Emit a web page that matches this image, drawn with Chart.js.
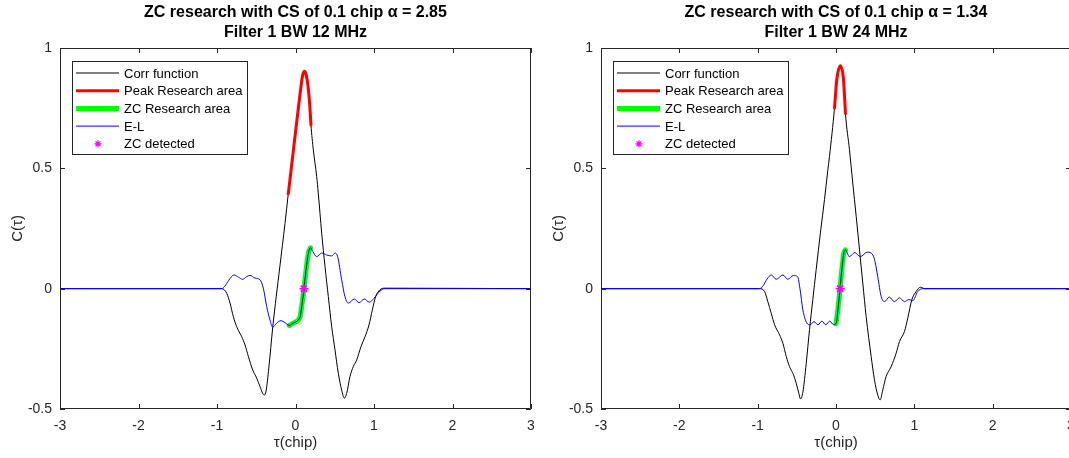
<!DOCTYPE html>
<html>
<head>
<meta charset="utf-8">
<script src="https://cdn.jsdelivr.net/npm/chart.js@4.4.1/dist/chart.umd.min.js"></script>
<style>
  html, body { margin: 0; padding: 0; background: #fff; overflow: hidden; width: 1069px; height: 458px; }
  canvas { position: absolute; top: 0; }
  #c1 { left: 0; }
  #c2 { left: 545px; }
</style>
</head>
<body>
<canvas id="c1" width="545" height="458"></canvas>
<canvas id="c2" width="540" height="458"></canvas>
<script>
// ---- axes ----
const xTicks = [-3, -2, -1, 0, 1, 2, 3];
const yTicks = [-0.5, 0, 0.5, 1];

// ---- left subplot : alpha = 2.85, BW 12 MHz ----
const leftTitle = ["ZC research with CS of 0.1 chip \u03B1 = 2.85", "Filter 1 BW 12 MHz"];

const leftCorrTau = [-3, -0.94, -0.876, -0.834, -0.792, -0.749, -0.685, -0.643, -0.6, -0.545, -0.494, -0.452, -0.418, -0.397, -0.375, -0.34, -0.29, -0.2, -0.134, -0.092, -0.05, 0.0, 0.04, 0.07, 0.09, 0.112, 0.135, 0.16, 0.18, 0.197, 0.227, 0.27, 0.29, 0.334, 0.376, 0.418, 0.461, 0.503, 0.545, 0.588, 0.622, 0.652, 0.694, 0.736, 0.78, 0.834, 0.885, 0.936, 0.979, 1.021, 1.076, 1.13, 3];
const leftCorrVal = [0, 0, -0.019, -0.06, -0.116, -0.158, -0.2, -0.234, -0.282, -0.338, -0.372, -0.407, -0.435, -0.442, -0.425, -0.33, -0.16, 0.09, 0.27, 0.394, 0.51, 0.65, 0.76, 0.84, 0.885, 0.903, 0.89, 0.84, 0.77, 0.68, 0.577, 0.466, 0.397, 0.23, 0.092, -0.033, -0.158, -0.254, -0.351, -0.421, -0.455, -0.435, -0.365, -0.324, -0.296, -0.241, -0.2, -0.151, -0.088, -0.033, -0.005, 0.002, 0];

const leftPeakTau = [-0.092, -0.05, 0.0, 0.04, 0.07, 0.09, 0.112, 0.135, 0.16, 0.18, 0.197];
const leftPeakVal = [0.394, 0.51, 0.65, 0.76, 0.84, 0.885, 0.903, 0.89, 0.84, 0.77, 0.68];

const leftElTau = [-3, -0.94, -0.9, -0.85, -0.783, -0.728, -0.673, -0.622, -0.58, -0.516, -0.452, -0.41, -0.367, -0.325, -0.29, -0.24, -0.185, -0.134, -0.079, -0.028, 0.036, 0.06, 0.079, 0.108, 0.134, 0.163, 0.19, 0.22, 0.27, 0.334, 0.397, 0.461, 0.505, 0.537, 0.588, 0.63, 0.673, 0.75, 0.81, 0.875, 0.94, 1.0, 1.076, 1.14, 3];
const leftElVal = [0, 0, 0.01, 0.035, 0.057, 0.048, 0.039, 0.05, 0.055, 0.044, 0.037, 0.002, -0.074, -0.13, -0.16, -0.143, -0.133, -0.141, -0.153, -0.143, -0.13, -0.115, -0.075, 0, 0.075, 0.145, 0.17, 0.155, 0.133, 0.148, 0.14, 0.136, 0.148, 0.133, 0.037, -0.033, -0.06, -0.043, -0.058, -0.043, -0.056, -0.04, -0.01, 0, 0];

const leftZcTau = [-0.079, -0.028, 0.036, 0.06, 0.079, 0.108, 0.134, 0.163, 0.19];
const leftZcVal = [-0.153, -0.143, -0.13, -0.115, -0.075, 0, 0.075, 0.145, 0.17];

const leftDetTau = [0.108];
const leftDetVal = [0];

// ---- right subplot : alpha = 1.34, BW 24 MHz ----
const rightTitle = ["ZC research with CS of 0.1 chip \u03B1 = 1.34", "Filter 1 BW 24 MHz"];

const rightCorrTau = [-3, -0.976, -0.912, -0.87, -0.827, -0.784, -0.72, -0.678, -0.635, -0.593, -0.542, -0.508, -0.474, -0.453, -0.423, -0.38, -0.338, -0.296, -0.253, -0.198, -0.147, -0.105, -0.083, -0.019, 0.01, 0.057, 0.096, 0.121, 0.172, 0.214, 0.258, 0.3, 0.342, 0.385, 0.449, 0.491, 0.533, 0.564, 0.597, 0.64, 0.704, 0.768, 0.81, 0.874, 0.916, 0.967, 1.023, 1.078, 1.129, 3];
const rightCorrVal = [0, 0, -0.012, -0.054, -0.102, -0.15, -0.192, -0.227, -0.282, -0.324, -0.358, -0.393, -0.435, -0.458, -0.43, -0.31, -0.17, -0.045, 0.08, 0.235, 0.37, 0.49, 0.55, 0.75, 0.868, 0.926, 0.868, 0.727, 0.577, 0.439, 0.3, 0.161, 0.023, -0.116, -0.282, -0.379, -0.442, -0.462, -0.421, -0.365, -0.324, -0.268, -0.22, -0.178, -0.123, -0.047, -0.012, 0.006, 0, 0];

const rightPeakTau = [-0.019, 0.01, 0.057, 0.096, 0.121];
const rightPeakVal = [0.75, 0.868, 0.926, 0.868, 0.727];

const rightElTau = [-3, -0.976, -0.93, -0.88, -0.827, -0.763, -0.678, -0.615, -0.545, -0.49, -0.46, -0.423, -0.372, -0.33, -0.28, -0.23, -0.18, -0.13, -0.08, -0.03, 0.003, 0.025, 0.052, 0.078, 0.1, 0.121, 0.17, 0.24, 0.31, 0.4, 0.47, 0.5, 0.533, 0.577, 0.619, 0.68, 0.746, 0.81, 0.874, 0.93, 0.98, 1.043, 1.107, 3];
const rightElVal = [0, 0, 0.012, 0.04, 0.057, 0.039, 0.057, 0.039, 0.055, 0.05, 0.0, -0.088, -0.143, -0.15, -0.137, -0.15, -0.135, -0.15, -0.135, -0.15, -0.143, -0.085, 0, 0.09, 0.148, 0.161, 0.133, 0.15, 0.133, 0.152, 0.14, 0.11, 0.05, -0.033, -0.054, -0.035, -0.054, -0.038, -0.054, -0.045, -0.05, -0.012, 0, 0];

const rightZcTau = [0.0, 0.025, 0.052, 0.078, 0.1, 0.121];
const rightZcVal = [-0.145, -0.085, 0, 0.09, 0.148, 0.161];

const rightDetTau = [0.053];
const rightDetVal = [0];

const FONT = "'Liberation Sans', Arial, Helvetica, sans-serif";
const AXIS_COLOR = "#262626";

function pts(tau, val) {
  return tau.map(function (t, i) { return { x: t, y: val[i] }; });
}

function lineSet(label, tau, val, color, width, order) {
  return {
    label: label,
    data: pts(tau, val),
    borderColor: color,
    backgroundColor: color,
    borderWidth: width,
    borderCapStyle: width > 1 ? "round" : "butt",
    pointRadius: 0,
    cubicInterpolationMode: "monotone",
    fill: false,
    order: order
  };
}

// Matlab style box with inward ticks
const axesBox = {
  id: "axesBox",
  afterDatasetsDraw: function (chart) {
    const ctx = chart.ctx;
    const a = chart.chartArea;
    const xs = chart.scales.x;
    const ys = chart.scales.y;
    const tl = 5;
    ctx.save();
    ctx.strokeStyle = AXIS_COLOR;
    ctx.lineWidth = 1;
    ctx.beginPath();
    ctx.rect(a.left + 0.5, a.top + 0.5, a.right - a.left - 1, a.bottom - a.top - 1);
    xTicks.forEach(function (v) {
      const px = Math.round(xs.getPixelForValue(v)) + 0.5;
      ctx.moveTo(px, a.bottom);
      ctx.lineTo(px, a.bottom - tl);
      ctx.moveTo(px, a.top);
      ctx.lineTo(px, a.top + tl);
    });
    yTicks.forEach(function (v) {
      const py = Math.round(ys.getPixelForValue(v)) + 0.5;
      ctx.moveTo(a.left, py);
      ctx.lineTo(a.left + tl, py);
      ctx.moveTo(a.right, py);
      ctx.lineTo(a.right - tl, py);
    });
    ctx.stroke();
    ctx.restore();
  }
};

// two-line bold title centred on the axes
const axesTitle = {
  id: "axesTitle",
  afterDraw: function (chart, args, opts) {
    const ctx = chart.ctx;
    const a = chart.chartArea;
    const cx = (a.left + a.right) / 2;
    ctx.save();
    ctx.fillStyle = "#000";
    ctx.font = "bold 16px " + FONT;
    ctx.textAlign = "center";
    ctx.textBaseline = "middle";
    opts.lines.forEach(function (t, i) {
      ctx.fillText(t, cx, 13 + i * 20);
    });
    ctx.restore();
  }
};

function drawStar(ctx, x, y, r, color) {
  ctx.save();
  ctx.strokeStyle = color;
  ctx.lineWidth = 1.2;
  ctx.beginPath();
  const d = r * Math.SQRT1_2;
  ctx.moveTo(x - r, y); ctx.lineTo(x + r, y);
  ctx.moveTo(x, y - r); ctx.lineTo(x, y + r);
  ctx.moveTo(x - d, y - d); ctx.lineTo(x + d, y + d);
  ctx.moveTo(x - d, y + d); ctx.lineTo(x + d, y - d);
  ctx.stroke();
  ctx.restore();
}

// boxed legend in the upper left corner
const boxLegend = {
  id: "boxLegend",
  afterDraw: function (chart) {
    const ctx = chart.ctx;
    const a = chart.chartArea;
    const bx = a.left + 12;
    const by = a.top + 13;
    const bw = 175;
    const bh = 93;
    ctx.save();
    ctx.fillStyle = "#fff";
    ctx.fillRect(bx, by, bw, bh);
    ctx.strokeStyle = AXIS_COLOR;
    ctx.lineWidth = 1;
    ctx.strokeRect(bx + 0.5, by + 0.5, bw, bh);
    ctx.font = "13px " + FONT;
    ctx.textBaseline = "middle";
    ctx.textAlign = "left";
    chart.data.datasets.forEach(function (ds, i) {
      const y = by + 12 + i * 17.7;
      if (ds.pointStyle === "star") {
        drawStar(ctx, bx + 26, y, 3.5, ds.borderColor);
      } else {
        ctx.strokeStyle = ds.borderColor;
        ctx.lineWidth = ds.borderWidth;
        ctx.beginPath();
        ctx.moveTo(bx + 4, y);
        ctx.lineTo(bx + 47, y);
        ctx.stroke();
      }
      ctx.fillStyle = "#000";
      ctx.fillText(ds.label, bx + 52, y + 1);
    });
    ctx.restore();
  }
};

function makeChart(id, title, s, yAxisWidth, yTitlePad) {
  const datasets = [
    lineSet("Corr function", s.corrTau, s.corrVal, "#000000", 1, 5),
    lineSet("Peak Research area", s.peakTau, s.peakVal, "#FF0000", 3, 4),
    lineSet("ZC Research area", s.zcTau, s.zcVal, "#00FF00", 5, 3),
    lineSet("E-L", s.elTau, s.elVal, "#0000FF", 1, 2),
    {
      label: "ZC detected",
      data: pts(s.detTau, s.detVal),
      showLine: false,
      pointStyle: "star",
      pointRadius: 4.5,
      pointBorderWidth: 1.5,
      borderColor: "#FF00FF",
      pointBorderColor: "#FF00FF",
      backgroundColor: "#FF00FF",
      order: 1
    }
  ];

  return new Chart(document.getElementById(id), {
    type: "line",
    data: { datasets: datasets },
    options: {
      responsive: false,
      animation: false,
      devicePixelRatio: 1,
      layout: { padding: { top: 48, right: 14, left: 0, bottom: 0 } },
      plugins: {
        legend: { display: false },
        tooltip: { enabled: false },
        axesTitle: { lines: title }
      },
      scales: {
        x: {
          type: "linear",
          min: -3,
          max: 3,
          afterBuildTicks: function (sc) { sc.ticks = xTicks.map(function (v) { return { value: v }; }); },
          afterFit: function (sc) { sc.height = 49; },
          grid: { display: false, drawTicks: false },
          border: { display: false },
          ticks: {
            color: AXIS_COLOR, font: { family: FONT, size: 14 }, padding: 9, maxRotation: 0,
            callback: function (v) { return String(v); }
          },
          title: { display: true, text: "\u03C4(chip)", color: AXIS_COLOR, font: { family: FONT, size: 15 }, padding: { top: 0, bottom: 6 } }
        },
        y: {
          type: "linear",
          min: -0.5,
          max: 1,
          afterBuildTicks: function (sc) { sc.ticks = yTicks.map(function (v) { return { value: v }; }); },
          afterFit: function (sc) { sc.width = yAxisWidth; },
          grid: { display: false, drawTicks: false },
          border: { display: false },
          ticks: {
            color: AXIS_COLOR, font: { family: FONT, size: 14 }, padding: 8,
            callback: function (v) { return String(v); }
          },
          title: { display: true, text: "C(\u03C4)", color: AXIS_COLOR, font: { family: FONT, size: 15 }, padding: { top: yTitlePad, bottom: 0 } }
        }
      }
    },
    plugins: [axesBox, boxLegend, axesTitle]
  });
}

makeChart("c1", leftTitle, {
  corrTau: leftCorrTau, corrVal: leftCorrVal,
  peakTau: leftPeakTau, peakVal: leftPeakVal,
  zcTau: leftZcTau, zcVal: leftZcVal,
  elTau: leftElTau, elVal: leftElVal,
  detTau: leftDetTau, detVal: leftDetVal
}, 60, 9);

makeChart("c2", rightTitle, {
  corrTau: rightCorrTau, corrVal: rightCorrVal,
  peakTau: rightPeakTau, peakVal: rightPeakVal,
  zcTau: rightZcTau, zcVal: rightZcVal,
  elTau: rightElTau, elVal: rightElVal,
  detTau: rightDetTau, detVal: rightDetVal
}, 56, 5);
</script>
</body>
</html>
